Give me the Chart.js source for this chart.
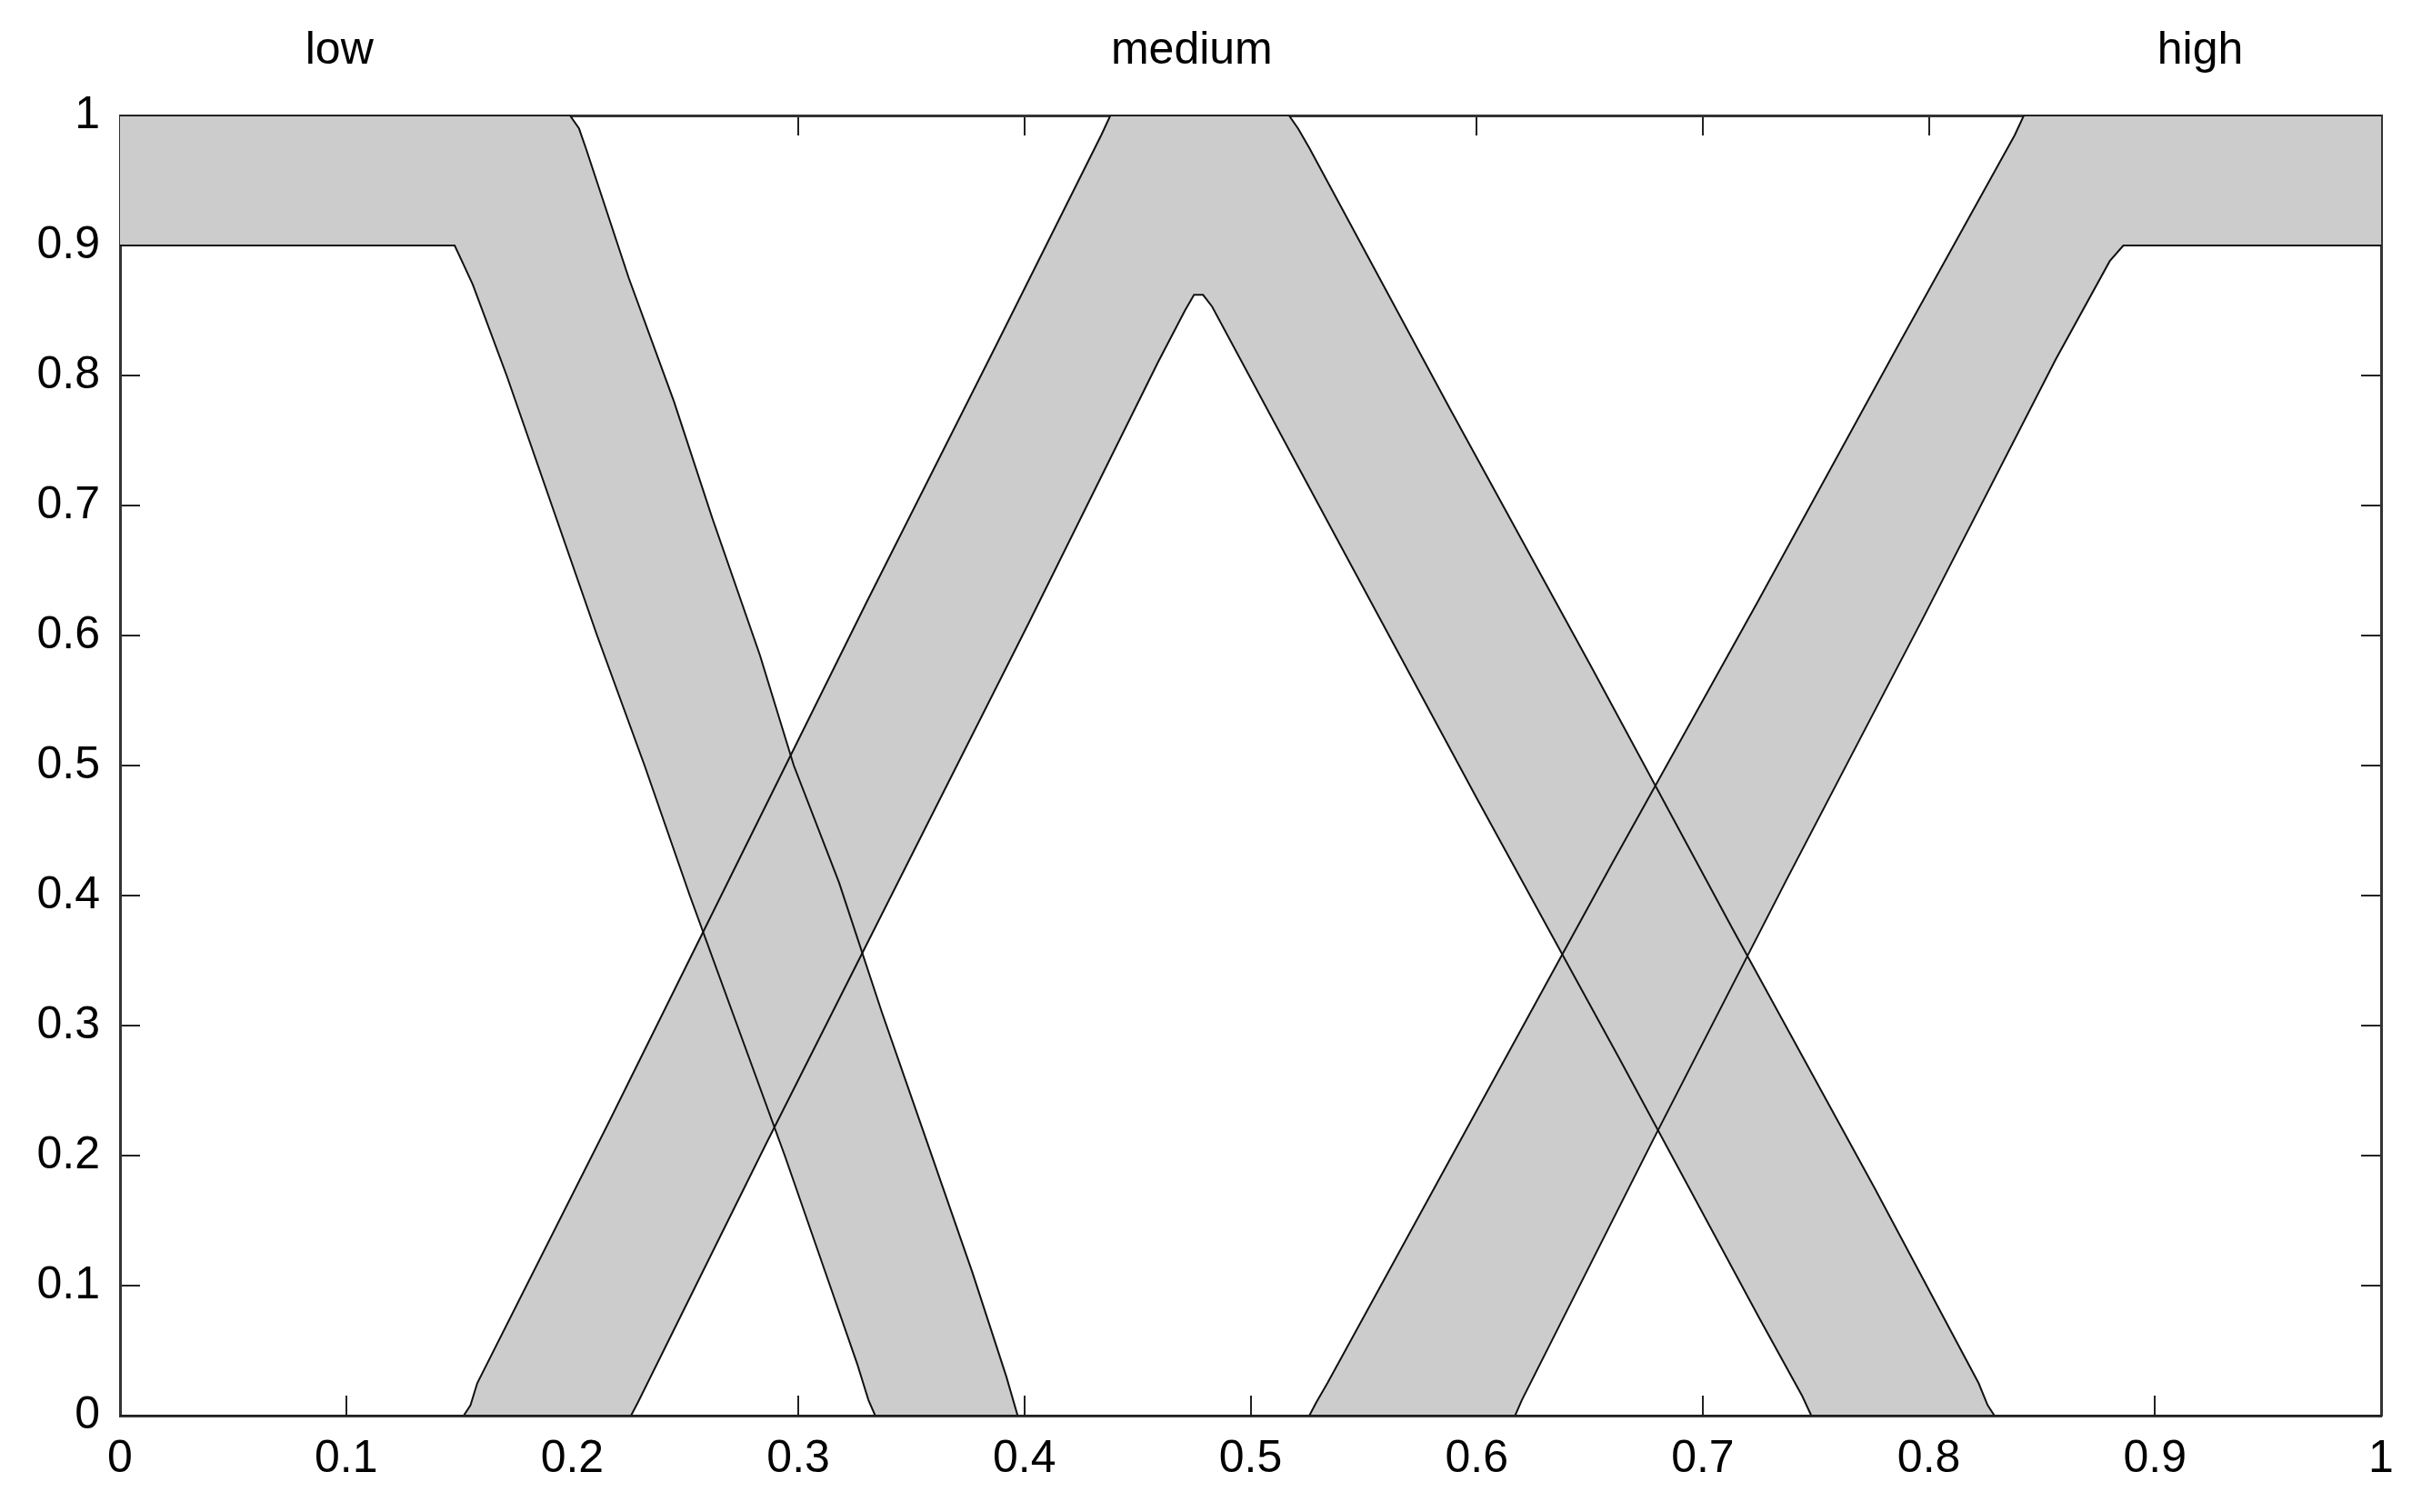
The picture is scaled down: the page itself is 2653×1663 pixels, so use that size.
<!DOCTYPE html>
<html>
<head>
<meta charset="utf-8">
<script src="https://cdn.jsdelivr.net/npm/chart.js@4.4.1/dist/chart.umd.min.js"></script>
<style>
  html, body { margin: 0; padding: 0; background: #fff; overflow: hidden; }
  #wrap { width: 2653px; height: 1663px; position: relative; }
</style>
</head>
<body>
<div id="wrap"><canvas id="mfChart"></canvas></div>
<script>
// tick labels
const xTickLabels = ['0', '0.1', '0.2', '0.3', '0.4', '0.5', '0.6', '0.7', '0.8', '0.9', '1'];
const yTickLabels = ['0', '0.1', '0.2', '0.3', '0.4', '0.5', '0.6', '0.7', '0.8', '0.9', '1'];

// set names shown above the plot and where they sit on x
const setNames = ['low', 'medium', 'high'];
const setNameX = [0.097, 0.474, 0.92];

// low: upper / lower membership
const lowUpperX = [0, 0.199, 0.203, 0.206, 0.225, 0.245, 0.262, 0.283, 0.298, 0.318, 0.337, 0.357, 0.377, 0.392, 0.397, 1];
const lowUpperY = [1, 1, 0.99, 0.975, 0.875, 0.78, 0.69, 0.585, 0.5, 0.41, 0.31, 0.21, 0.11, 0.03, 0, 0];
const lowLowerX = [0, 0.148, 0.152, 0.156, 0.171, 0.191, 0.211, 0.232, 0.252, 0.273, 0.294, 0.314, 0.326, 0.331, 0.334, 1];
const lowLowerY = [0.9, 0.9, 0.885, 0.87, 0.8, 0.7, 0.6, 0.5, 0.4, 0.3, 0.2, 0.1, 0.04, 0.012, 0, 0];

// medium
const medUpperX = [0, 0.152, 0.155, 0.158, 0.216, 0.273, 0.33, 0.388, 0.434, 0.438, 0.517, 0.521, 0.526, 0.588, 0.651, 0.713, 0.776, 0.822, 0.826, 0.829, 1];
const medUpperY = [0, 0, 0.008, 0.025, 0.225, 0.425, 0.625, 0.825, 0.985, 1, 1, 0.99, 0.975, 0.775, 0.575, 0.375, 0.175, 0.025, 0.008, 0, 0];
const medLowerX = [0, 0.226, 0.229, 0.286, 0.344, 0.402, 0.459, 0.471, 0.475, 0.479, 0.483, 0.538, 0.6, 0.663, 0.725, 0.744, 0.748, 1];
const medLowerY = [0, 0, 0.01, 0.21, 0.41, 0.61, 0.81, 0.85, 0.862, 0.862, 0.853, 0.675, 0.475, 0.275, 0.075, 0.015, 0, 0];

// high
const highUpperX = [0, 0.526, 0.529, 0.534, 0.597, 0.66, 0.724, 0.787, 0.838, 0.842, 1];
const highUpperY = [0, 0, 0.01, 0.025, 0.225, 0.425, 0.625, 0.825, 0.985, 1, 1];
const highLowerX = [0, 0.617, 0.62, 0.678, 0.737, 0.797, 0.856, 0.88, 0.886, 1];
const highLowerY = [0, 0, 0.012, 0.212, 0.412, 0.612, 0.812, 0.888, 0.9, 0.9];

const fontFamily = '"Liberation Sans", Arial, Helvetica, sans-serif';
const lineColor = '#111111';
const bandColor = '#cccccc';
const tickLen = -22;

function toPoints(xs, ys) {
    return xs.map(function(x, i){ return {x: x, y: ys[i]}; });
}

function mfDataset(xs, ys, fillNext) {
    return {
        data: toPoints(xs, ys),
        xAxisID: 'x',
        yAxisID: 'y',
        borderColor: lineColor,
        borderWidth: 2,
        backgroundColor: bandColor,
        pointRadius: 0,
        tension: 0,
        fill: fillNext ? '+1' : false
    };
}

// horizontal scales should not push the plot inwards for label overhang
function noSidePadding(scale) {
    scale.paddingLeft = 0;
    scale.paddingRight = 0;
}

(function(){
    let ctx = document.getElementById('mfChart').getContext('2d');
    let mfChart = new Chart(ctx, {
        type: 'line',
        data: {
            datasets: [
                mfDataset(lowUpperX, lowUpperY, true),
                mfDataset(lowLowerX, lowLowerY, false),
                mfDataset(medUpperX, medUpperY, true),
                mfDataset(medLowerX, medLowerY, false),
                mfDataset(highUpperX, highUpperY, true),
                mfDataset(highLowerX, highLowerY, false)
            ]
        },
        options: {
            responsive: true,
            maintainAspectRatio: false,
            animation: false,
            layout: { padding: 0 },
            plugins: {
                legend: { display: false },
                tooltip: { enabled: false },
                filler: { drawTime: 'beforeDatasetsDraw', propagate: false }
            },
            scales: {
                x: {
                    type: 'linear',
                    position: 'bottom',
                    min: 0,
                    max: 1,
                    border: { display: true, color: '#333', width: 3 },
                    grid: { drawOnChartArea: false, drawTicks: true, tickLength: tickLen, color: '#222', lineWidth: 2 },
                    ticks: {
                        stepSize: 0.1,
                        autoSkip: false,
                        maxRotation: 0,
                        padding: 40,
                        color: '#000',
                        font: { family: fontFamily, size: 50 },
                        callback: function(v, i){ return xTickLabels[i]; }
                    },
                    afterFit(scale) {
                        scale.height = 106;
                        noSidePadding(scale);
                    }
                },
                y: {
                    type: 'linear',
                    position: 'left',
                    min: 0,
                    max: 1,
                    border: { display: true, color: '#333', width: 3 },
                    grid: { drawOnChartArea: false, drawTicks: true, tickLength: tickLen, color: '#222', lineWidth: 2 },
                    ticks: {
                        stepSize: 0.1,
                        autoSkip: false,
                        padding: 44,
                        color: '#000',
                        font: { family: fontFamily, size: 50 },
                        callback: function(v, i){ return yTickLabels[i]; }
                    },
                    afterFit(scale) {
                        scale.width = 132;
                    }
                },
                x2: {
                    type: 'linear',
                    position: 'top',
                    weight: 0,
                    min: 0,
                    max: 1,
                    border: { display: true, color: '#333', width: 3 },
                    grid: { drawOnChartArea: false, drawTicks: true, tickLength: tickLen, color: '#222', lineWidth: 2 },
                    ticks: { stepSize: 0.1, display: false },
                    afterFit(scale) {
                        scale.height = 0;
                        noSidePadding(scale);
                    }
                },
                x3: {
                    type: 'linear',
                    position: 'top',
                    weight: 10,
                    min: 0,
                    max: 1,
                    border: { display: false },
                    grid: { display: false, drawTicks: false },
                    ticks: {
                        autoSkip: false,
                        maxRotation: 0,
                        padding: 41,
                        color: '#000',
                        font: { family: fontFamily, size: 50 },
                        callback: function(v, i){ return setNames[i]; }
                    },
                    afterBuildTicks(scale) {
                        scale.ticks = setNameX.map(function(v){ return {value: v}; });
                    },
                    afterFit(scale) {
                        scale.height = 127;
                        noSidePadding(scale);
                    }
                },
                y2: {
                    type: 'linear',
                    position: 'right',
                    min: 0,
                    max: 1,
                    border: { display: true, color: '#333', width: 3 },
                    grid: { drawOnChartArea: false, drawTicks: true, tickLength: tickLen, color: '#222', lineWidth: 2 },
                    ticks: { stepSize: 0.1, display: false },
                    afterFit(scale) {
                        scale.width = 34;
                    }
                }
            }
        }
    });
})();
</script>
</body>
</html>
